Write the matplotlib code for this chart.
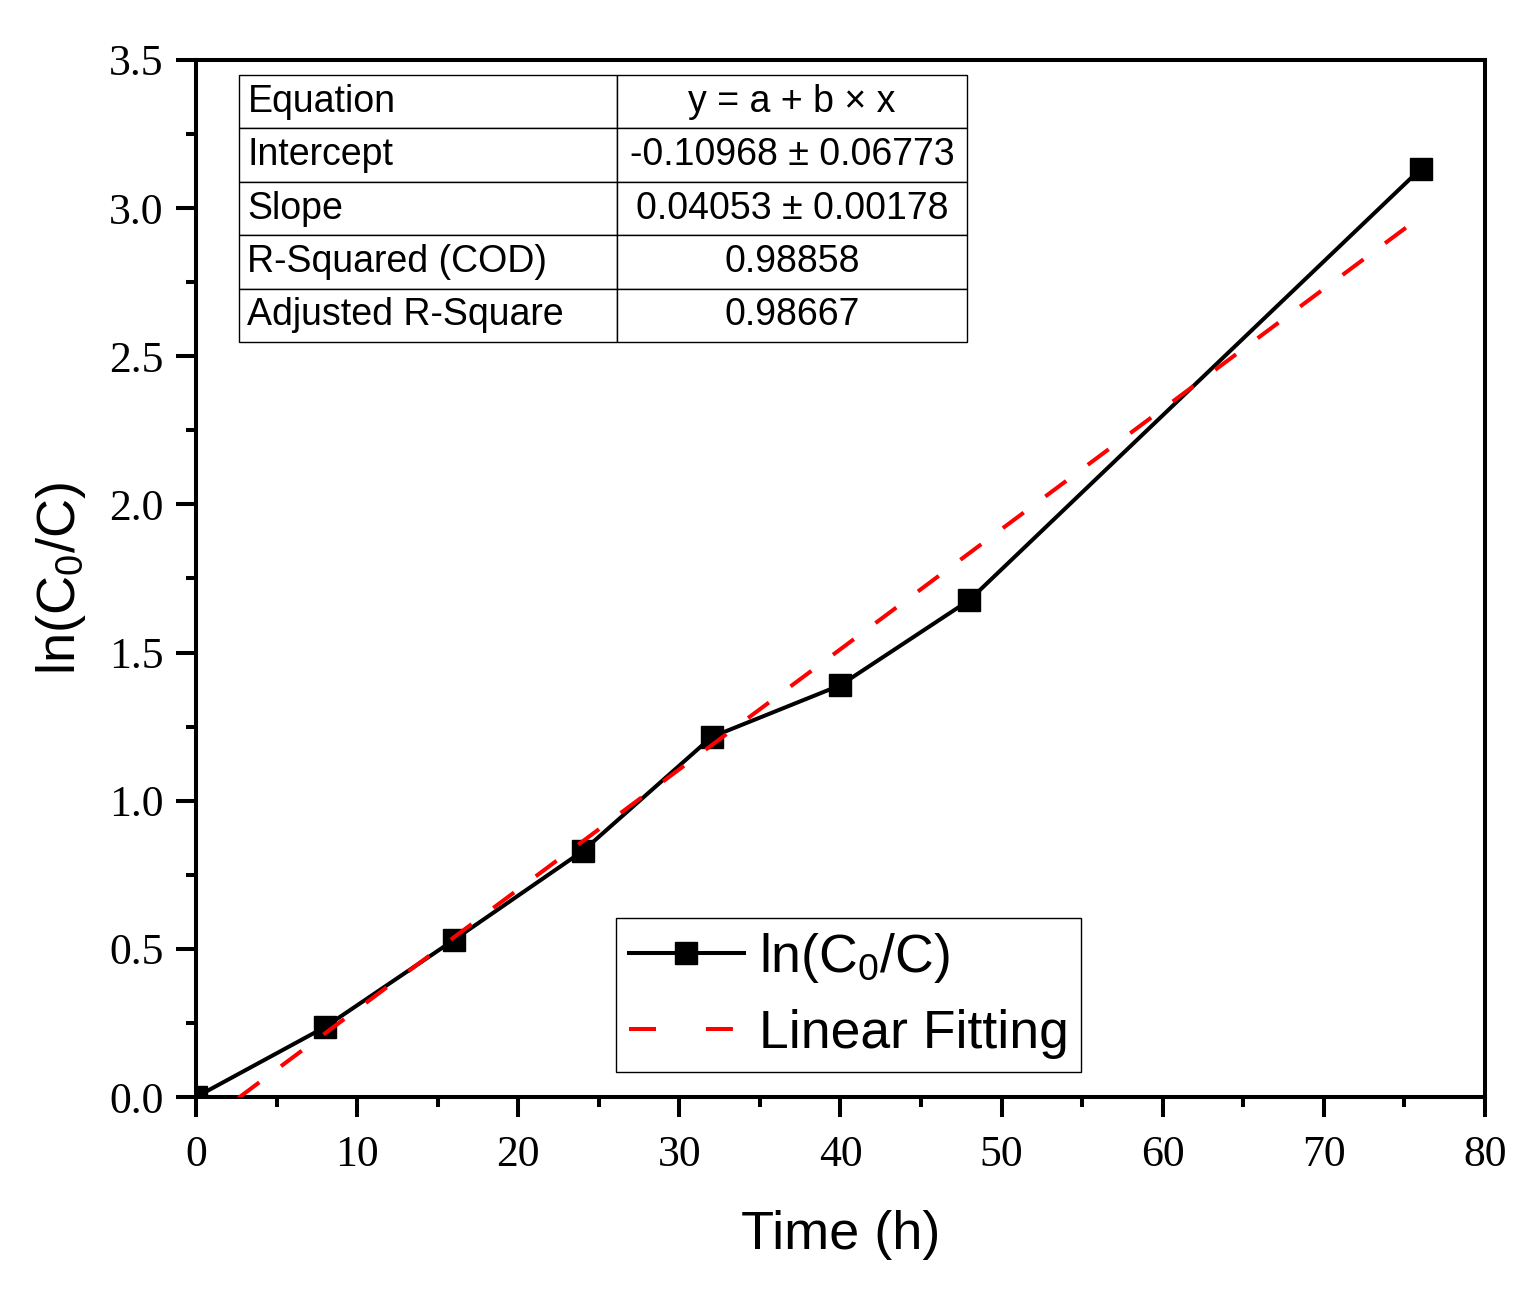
import matplotlib
matplotlib.use('Agg')
import matplotlib.pyplot as plt
from matplotlib.lines import Line2D
from matplotlib.ticker import MultipleLocator
import numpy as np

# ---- data ----
time_h = [0, 8, 16, 24, 32, 40, 48, 76]
ln_c0_c = [0.0, 0.236, 0.53, 0.83, 1.215, 1.39, 1.677, 3.132]

fit_intercept = -0.10968
fit_intercept_err = 0.06773
fit_slope = 0.04053
fit_slope_err = 0.00178
r_squared = 0.98858
adj_r_square = 0.98667

x_ticks = [0, 10, 20, 30, 40, 50, 60, 70, 80]
x_tick_labels = ['0', '10', '20', '30', '40', '50', '60', '70', '80']
y_ticks = [0.0, 0.5, 1.0, 1.5, 2.0, 2.5, 3.0, 3.5]
y_tick_labels = ['0.0', '0.5', '1.0', '1.5', '2.0', '2.5', '3.0', '3.5']

table_rows = ['Equation', 'Intercept', 'Slope', 'R-Squared (COD)', 'Adjusted R-Square']
table_vals = ['y = a + b \u00d7 x',
              f'{fit_intercept:.5f} \u00b1 {fit_intercept_err:.5f}',
              f'{fit_slope:.5f} \u00b1 {fit_slope_err:.5f}',
              f'{r_squared:.5f}',
              f'{adj_r_square:.5f}']

SANS = 'Liberation Sans'
SERIF = 'Liberation Serif'
plt.rcParams['font.family'] = SANS

fig = plt.figure(figsize=(15.29, 12.92), dpi=100)
ax = fig.add_axes([0.1282, 0.1509, 0.8430, 0.8027])

LW = 2.9
ax.plot(time_h, ln_c0_c, color='black', lw=LW, marker='s', ms=15.5,
        mfc='black', mec='black', zorder=3)
fit_x = np.array([time_h[0], time_h[-1]], dtype=float)
fit_y = fit_intercept + fit_slope * fit_x
ax.plot(fit_x, fit_y, color='#ff0000', lw=LW, linestyle=(0, (6.45, 6.7)), zorder=4)

ax.set_xlim(0, 80)
ax.set_ylim(0, 3.5)
ax.set_xticks(x_ticks, x_tick_labels, fontfamily=SERIF)
ax.set_yticks(y_ticks, y_tick_labels, fontfamily=SERIF)
ax.xaxis.set_minor_locator(MultipleLocator(5))
ax.yaxis.set_minor_locator(MultipleLocator(0.25))
ax.tick_params(which='major', direction='out', length=14.4, width=LW,
               top=False, right=False, labelsize=31.5)
ax.tick_params(axis='x', which='major', pad=13)
ax.tick_params(axis='y', which='major', pad=9)
ax.tick_params(which='minor', direction='out', length=7, width=LW,
               top=False, right=False)
for sp in ax.spines.values():
    sp.set_linewidth(LW)

ax.set_xlabel('Time (h)', fontsize=39, family=SANS, labelpad=25)
ax.set_ylabel('ln(C$_\\mathregular{0}$/C)', fontsize=39, family=SANS, labelpad=15)

# legend
h1 = Line2D([], [], color='black', lw=LW, marker='s', ms=15.5, mfc='black', mec='black')
h2 = Line2D([], [], color='#ff0000', lw=LW, linestyle=(0, (6.7, 12.4)))
leg = ax.legend([h1, h2], ['ln(C$_\\mathregular{0}$/C)', 'Linear Fitting'],
                loc='upper left', bbox_to_anchor=(0.3258, 0.1726), borderaxespad=0,
                fontsize=38.5, handlelength=2.15, handletextpad=0.28, borderpad=0.24,
                labelspacing=0.45, numpoints=1, fancybox=False, framealpha=1,
                edgecolor='black')
leg.get_frame().set_linewidth(1.0)

# table
cell_text = [[r, v] for r, v in zip(table_rows, table_vals)]
tbl = ax.table(cellText=cell_text, colWidths=[378 / 728, 350 / 728],
               bbox=[0.0334, 0.728, 0.5647, 0.2575], cellLoc='center', zorder=5)
tbl.auto_set_font_size(False)
tbl.set_fontsize(27)
for (r, c), cell in tbl.get_celld().items():
    cell.set_linewidth(1.0)
    cell.set_edgecolor('black')
    cell.get_text().set_fontfamily(SANS)
    if c == 0:
        cell._loc = 'left'
        cell.PAD = 0.022
        cell.get_text().set_ha('left')

fig.savefig('out.png', dpi=100)
